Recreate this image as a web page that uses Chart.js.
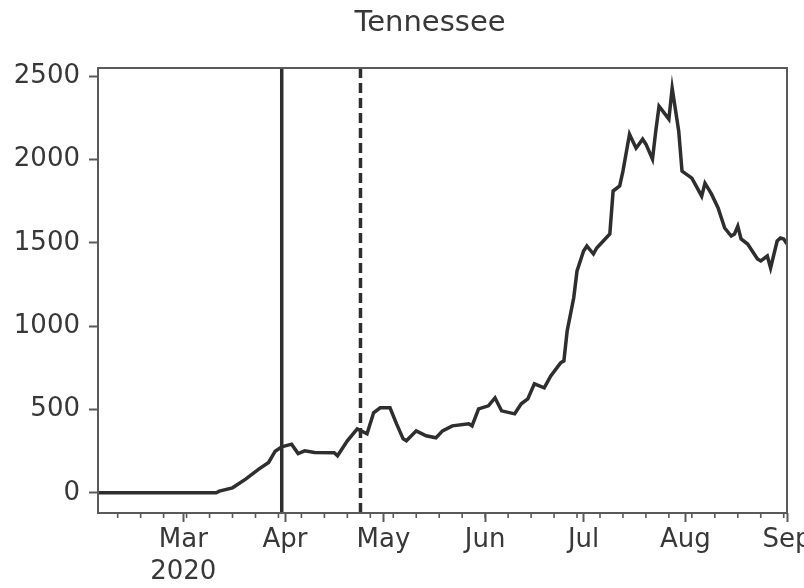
<!DOCTYPE html>
<html>
<head>
<meta charset="utf-8">
<title>Tennessee</title>
<script src="https://cdn.jsdelivr.net/npm/chart.js@4/dist/chart.umd.min.js"></script>
<style>
  html, body { margin: 0; padding: 0; background: #ffffff; }
  #wrap { width: 804px; height: 588px; }
</style>
</head>
<body>
<div id="wrap"><canvas id="chart" width="804" height="588"></canvas></div>
<script>
// Daily new cases (7-day average), 2020, as MM-DD
const dates = [
  '02-04','03-11','03-12','03-16','03-20','03-24','03-27','03-29','03-31',
  '04-03','04-05','04-07','04-10','04-16','04-17','04-20','04-23','04-26','04-28','04-30',
  '05-03','05-05','05-07','05-08','05-11','05-14','05-17','05-19','05-22','05-27','05-28','05-30',
  '06-02','06-04','06-06','06-10','06-12','06-14','06-16','06-19','06-21','06-24','06-25','06-26','06-28','06-29',
  '07-01','07-02','07-04','07-05','07-07','07-09','07-10','07-12','07-13','07-15','07-17','07-19','07-20',
  '07-22','07-23','07-24','07-27','07-28','07-30','07-31',
  '08-03','08-04','08-06','08-07','08-09','08-11','08-13','08-15','08-16','08-17','08-18','08-20',
  '08-23','08-24','08-26','08-27','08-29','08-30','08-31','09-01'
];
const cases = [
  0, 0, 10, 30, 82, 142, 182, 250, 276,
  292, 236, 252, 242, 240, 222, 312, 384, 354, 480, 510,
  510, 414, 324, 312, 372, 342, 330, 372, 402, 414, 402, 504,
  522, 570, 492, 474, 534, 564, 654, 630, 702, 780, 792, 972, 1170, 1331,
  1451, 1481, 1433, 1469, 1511, 1553, 1811, 1841, 1930, 2152, 2068, 2122, 2092,
  2002, 2170, 2320, 2242, 2428, 2170, 1930,
  1888, 1852, 1780, 1858, 1792, 1709, 1589, 1541, 1553, 1600, 1523, 1493,
  1403, 1391, 1421, 1349, 1511, 1529, 1523, 1493
];

// Policy dates: solid = stay-at-home order, dashed = reopening
const orderDate = '03-31';
const reopenDate = '04-24';

// Axis ticks
const monthTickDates = ['03-01','04-01','05-01','06-01','07-01','08-01','09-01'];
const monthTickLabels = [['Mar','2020'],'Apr','May','Jun','Jul','Aug','Sep'];
const yTickValues = [0, 500, 1000, 1500, 2000, 2500];
const xRange = ['02-04', '09-01'];
const yRange = [-121, 2549];

// day offset from 2020-03-01
function dayOf(s) {
  const [m, d] = s.split('-').map(Number);
  return (Date.UTC(2020, m - 1, d) - Date.UTC(2020, 2, 1)) / 86400000;
}

const linePoints = dates.map((s, i) => ({ x: dayOf(s), y: cases[i] }));
const vline = (s) => [{ x: dayOf(s), y: yRange[0] }, { x: dayOf(s), y: yRange[1] }];
const monthTickDays = monthTickDates.map(dayOf);

const INK = '#2e2e2e';
const AXIS = '#5a5a5a';
const TEXT = '#383838';
const FONT = "'DejaVu Sans', sans-serif";

// Frame around the plotting area plus weekly (Monday) minor ticks on the x axis
const framePlugin = {
  id: 'frame',
  afterDraw(chart) {
    const { ctx, chartArea: a, scales } = chart;
    const xs = scales.x;
    ctx.save();
    ctx.strokeStyle = AXIS;
    ctx.lineWidth = 2;
    ctx.strokeRect(a.left, a.top, a.right - a.left, a.bottom - a.top);
    ctx.lineWidth = 1.6;
    ctx.beginPath();
    for (let d = dayOf('02-10'); d <= xs.max; d += 7) {
      const px = xs.getPixelForValue(d);
      ctx.moveTo(px, a.bottom);
      ctx.lineTo(px, a.bottom + 5);
    }
    ctx.stroke();
    ctx.restore();
  }
};

new Chart(document.getElementById('chart'), {
  type: 'line',
  data: {
    datasets: [
      {
        data: linePoints,
        borderColor: INK,
        borderWidth: 3.5,
        pointRadius: 0,
        tension: 0,
        fill: false
      },
      {
        data: vline(orderDate),
        borderColor: INK,
        borderWidth: 3.5,
        pointRadius: 0
      },
      {
        data: vline(reopenDate),
        borderColor: INK,
        borderWidth: 3.5,
        borderDash: [10, 5],
        pointRadius: 0
      }
    ]
  },
  options: {
    responsive: false,
    animation: false,
    devicePixelRatio: 1,
    layout: { padding: { left: 73, right: 17, top: 0, bottom: 0 } },
    plugins: {
      legend: { display: false },
      tooltip: { enabled: false },
      title: {
        display: true,
        text: 'Tennessee',
        color: TEXT,
        font: { family: FONT, size: 29, weight: 'normal', lineHeight: 1.2 },
        padding: { top: 6, bottom: 27.2 }
      }
    },
    scales: {
      x: {
        type: 'linear',
        min: dayOf(xRange[0]),
        max: dayOf(xRange[1]),
        afterBuildTicks(scale) {
          scale.ticks = monthTickDays.map(v => ({ value: v }));
        },
        afterFit(scale) {
          scale.height = 75;
          scale.paddingLeft = 0;
          scale.paddingRight = 0;
        },
        grid: { drawOnChartArea: false, drawTicks: true, tickLength: 9, tickColor: AXIS, tickWidth: 2 },
        border: { display: false },
        ticks: {
          autoSkip: false,
          maxRotation: 0,
          padding: 3,
          color: TEXT,
          font: { family: FONT, size: 26, lineHeight: 1.2 },
          callback(value) {
            const i = monthTickDays.indexOf(value);
            return i >= 0 ? monthTickLabels[i] : '';
          }
        }
      },
      y: {
        type: 'linear',
        min: yRange[0],
        max: yRange[1],
        afterBuildTicks(scale) {
          scale.ticks = yTickValues.map(v => ({ value: v }));
        },
        afterFit(scale) {
          scale.width = 25;
          scale.paddingTop = 0;
          scale.paddingBottom = 0;
          // narrow axis box: let the tick labels extend to the left of it
          scale._computeLabelArea = () => undefined;
        },
        grid: { drawOnChartArea: false, drawTicks: true, tickLength: 9, tickColor: AXIS, tickWidth: 2 },
        border: { display: false },
        ticks: {
          padding: 9,
          color: TEXT,
          font: { family: FONT, size: 26 },
          callback(value) { return String(value); }
        }
      }
    }
  },
  plugins: [framePlugin]
});
</script>
</body>
</html>
